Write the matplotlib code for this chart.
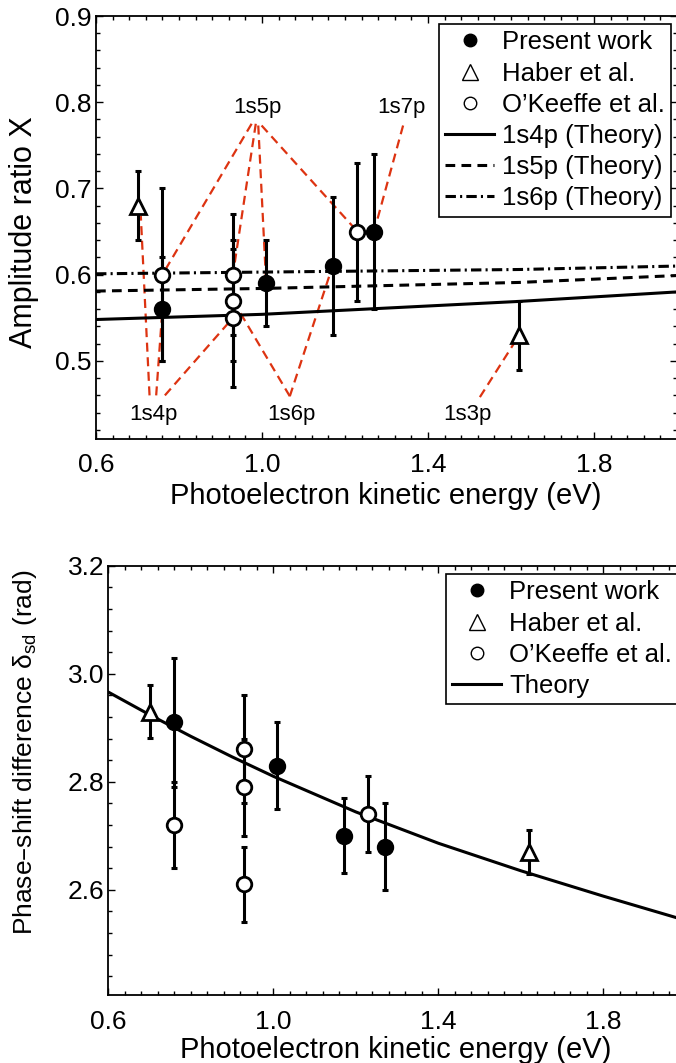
import matplotlib
matplotlib.use("Agg")
import matplotlib.pyplot as plt
from matplotlib.lines import Line2D
from matplotlib.ticker import MultipleLocator, FormatStrFormatter

plt.rcParams["font.family"] = ["Liberation Sans", "DejaVu Sans"]
plt.rcParams["mathtext.default"] = "regular"
plt.rcParams["lines.scale_dashes"] = False

# ── Data: amplitude ratio X (top panel) ──────────────────────────────────────
present_x = [0.76, 1.01, 1.17, 1.27]
present_amp = [0.56, 0.59, 0.61, 0.65]
present_amp_err = [0.06, 0.05, 0.08, 0.09]

haber_x = [0.70, 1.62]
haber_amp = [0.68, 0.53]
haber_amp_err = [0.04, 0.04]

okeeffe_x = [0.76, 0.93, 0.93, 0.93, 1.23]
okeeffe_amp = [0.60, 0.60, 0.57, 0.55, 0.65]
okeeffe_amp_err = [0.10, 0.07, 0.07, 0.08, 0.08]

theory_amp_x = [0.6, 1.0, 1.62, 2.0]
theory_1s4p = [0.548, 0.554, 0.569, 0.580]
theory_1s5p = [0.581, 0.584, 0.591, 0.599]
theory_1s6p = [0.601, 0.603, 0.606, 0.610]

# resonance labels and the red guide lines (start -> data point)
res_labels = ["1s4p", "1s5p", "1s6p", "1s7p", "1s3p"]
res_label_x = [0.739, 0.989, 1.071, 1.336, 1.495]
res_label_y = [0.432, 0.787, 0.432, 0.787, 0.432]
guide_x0 = [0.729, 0.745, 0.766, 0.975, 0.985, 0.991, 0.999, 1.067, 1.067, 1.340, 1.525]
guide_y0 = [0.460, 0.460, 0.460, 0.775, 0.775, 0.773, 0.773, 0.459, 0.459, 0.773, 0.458]
guide_x1 = [0.708, 0.76, 0.93, 0.76, 0.93, 1.01, 1.23, 0.93, 1.17, 1.27, 1.62]
guide_y1 = [0.668, 0.56, 0.55, 0.60, 0.60, 0.59, 0.65, 0.57, 0.61, 0.65, 0.53]

# ── Data: phase-shift difference (bottom panel) ──────────────────────────────
present_phase = [2.91, 2.83, 2.70, 2.68]
present_phase_err = [0.12, 0.08, 0.07, 0.08]

haber_phase = [2.93, 2.67]
haber_phase_err = [0.05, 0.04]

okeeffe_phase = [2.72, 2.86, 2.79, 2.61, 2.74]
okeeffe_phase_err = [0.08, 0.10, 0.09, 0.07, 0.07]

theory_phase_x = [0.6, 0.7, 0.8, 0.9, 1.0, 1.2, 1.4, 1.6, 1.8, 2.0]
theory_phase = [2.966, 2.924, 2.884, 2.846, 2.810, 2.744, 2.686, 2.635, 2.588, 2.543]

x_ticks = [0.6, 1.0, 1.4, 1.8]

RED = "#DD3311"
LW = 2.2
W, H = 676, 1063


def draw_points(ax, xs, ys, errs, marker, face, ms):
    ax.errorbar(xs, ys, yerr=errs, fmt="none", ecolor="k", elinewidth=LW,
                capsize=2.5, capthick=LW, zorder=3)
    ax.plot(xs, ys, ls="none", marker=marker, ms=ms, mfc=face, mec="k",
            mew=2.0, zorder=4)


def style_axes(ax, ymajor, yminor):
    ax.set_xticks(x_ticks)
    ax.xaxis.set_minor_locator(MultipleLocator(0.04))
    ax.xaxis.set_major_formatter(FormatStrFormatter("%.1f"))
    ax.yaxis.set_major_locator(MultipleLocator(ymajor))
    ax.yaxis.set_minor_locator(MultipleLocator(yminor))
    ax.yaxis.set_major_formatter(FormatStrFormatter("%.1f"))
    ax.tick_params(which="both", direction="in", top=True, right=True,
                   width=1.0, labelsize=19)
    ax.tick_params(which="major", length=5)
    ax.tick_params(which="minor", length=3)
    ax.tick_params(axis="x", pad=10.5)
    ax.tick_params(axis="y", pad=3)
    for s in ax.spines.values():
        s.set_linewidth(1.3)


def add_legend(ax, extra, labels, left, top):
    handles = [
        Line2D([], [], ls="none", marker="o", ms=9, mfc="k", mec="k", mew=1),
        Line2D([], [], ls="none", marker="^", ms=11, mfc="w", mec="k", mew=1),
        Line2D([], [], ls="none", marker="o", ms=9, mfc="w", mec="k", mew=1),
    ] + extra
    leg = ax.legend(handles, labels, loc="upper left",
                    bbox_to_anchor=(left / W, 1 - top / H),
                    bbox_transform=fig.transFigure, fontsize=18.5,
                    frameon=True, fancybox=False, framealpha=1, edgecolor="k",
                    borderpad=0.25, labelspacing=0.28, handlelength=1.9,
                    handletextpad=0.3, borderaxespad=0)
    leg.get_frame().set_linewidth(1.2)


fig = plt.figure(figsize=(W / 100, H / 100), dpi=100)

# ── Top panel ────────────────────────────────────────────────────────────────
ax1 = fig.add_axes([96 / W, 1 - 438.5 / H, 581 / W, 422.5 / H])
for x0, y0, x1, y1 in zip(guide_x0, guide_y0, guide_x1, guide_y1):
    ax1.plot([x0, x1], [y0, y1], color=RED, lw=1.6, dashes=(6.5, 4), zorder=1)
for lab, lx, ly in zip(res_labels, res_label_x, res_label_y):
    ax1.text(lx, ly, lab, ha="center", va="baseline", fontsize=16)

l4, = ax1.plot(theory_amp_x, theory_1s4p, color="k", lw=LW, zorder=2)
l5, = ax1.plot(theory_amp_x, theory_1s5p, color="k", lw=LW, dashes=(7, 4.5), zorder=2)
l6, = ax1.plot(theory_amp_x, theory_1s6p, color="k", lw=LW,
               dashes=(7.5, 3, 1.5, 3), zorder=2)

draw_points(ax1, haber_x, haber_amp, haber_amp_err, "^", "w", 11.5)
draw_points(ax1, okeeffe_x, okeeffe_amp, okeeffe_amp_err, "o", "w", 10.5)
draw_points(ax1, present_x, present_amp, present_amp_err, "o", "k", 10.5)

ax1.set_xlim(0.6, 2.0)
ax1.set_ylim(0.41, 0.9)
style_axes(ax1, 0.1, 0.02)
ax1.set_xlabel("Photoelectron kinetic energy (eV)", fontsize=21, va="center")
ax1.xaxis.set_label_coords(0.499, -0.137)
ax1.set_ylabel("Amplitude ratio X", fontsize=22, va="center")
ax1.yaxis.set_label_coords(-0.124, 0.489)

add_legend(ax1, [l4, l5, l6],
           ["Present work", "Haber et al.", "O\u2019Keeffe et al.",
            "1s4p (Theory)", "1s5p (Theory)", "1s6p (Theory)"], 439, 24)

# ── Bottom panel ─────────────────────────────────────────────────────────────
ax2 = fig.add_axes([108.3 / W, 1 - 995 / H, 577.7 / W, 429.3 / H])
lt, = ax2.plot(theory_phase_x, theory_phase, color="k", lw=LW, zorder=2)
draw_points(ax2, haber_x, haber_phase, haber_phase_err, "^", "w", 11.5)
draw_points(ax2, okeeffe_x, okeeffe_phase, okeeffe_phase_err, "o", "w", 10.5)
draw_points(ax2, present_x, present_phase, present_phase_err, "o", "k", 10.5)

ax2.set_xlim(0.6, 2.0)
ax2.set_ylim(2.405, 3.2)
style_axes(ax2, 0.2, 0.04)
ax2.set_xlabel("Photoelectron kinetic energy (eV)", fontsize=21, va="center")
ax2.xaxis.set_label_coords(0.498, -0.128)
ax2.set_ylabel("Phase\u2013shift difference \u03b4$_{sd}$ (rad)", fontsize=19,
               va="center")
ax2.yaxis.set_label_coords(-0.144, 0.566)

add_legend(ax2, [lt],
           ["Present work", "Haber et al.", "O\u2019Keeffe et al.", "Theory"],
           446, 574)

fig.savefig("out.png", dpi=100)
